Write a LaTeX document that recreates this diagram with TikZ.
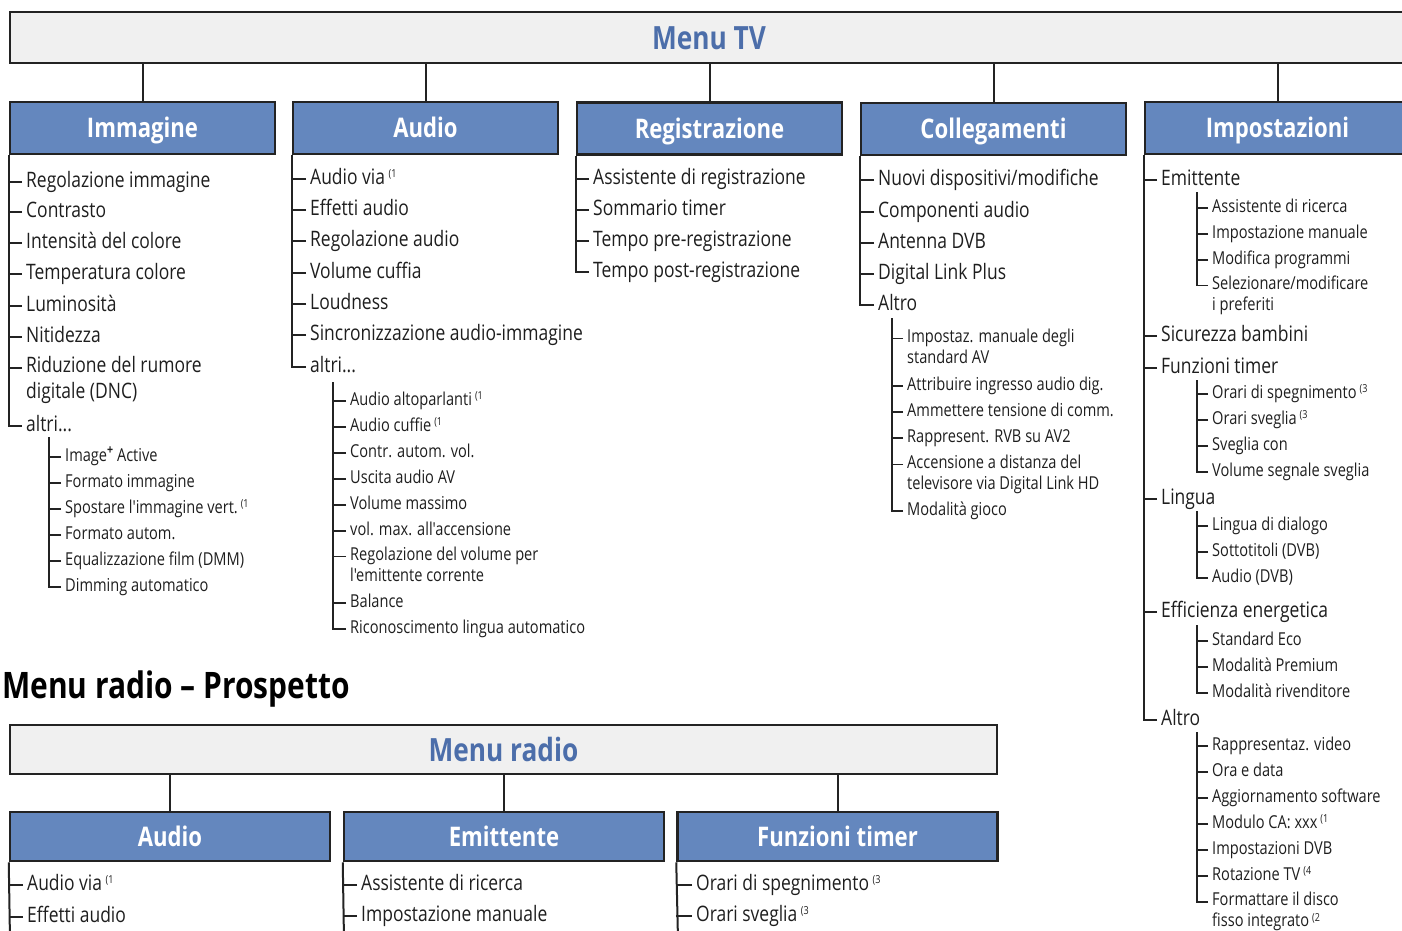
\documentclass[tikz,border=0pt]{standalone}
\usepackage{fontspec}
\setmainfont{Open Sans}[FakeStretch=0.82, Ligatures=TeXOff]
\usetikzlibrary{positioning}

\definecolor{headblue}{RGB}{100,135,190}
\definecolor{titleblue}{RGB}{76,110,170}
\definecolor{boxgray}{RGB}{240,240,240}
\definecolor{linegray}{RGB}{35,35,35}
\definecolor{textgray}{RGB}{30,30,30}

\newcommand{\itemfont}{\fontsize{21.3}{26}\selectfont}
\newcommand{\subfont}{\fontsize{17.8}{21}\selectfont}
\newcommand{\fn}[1]{\,\raisebox{0.3em}{\fontsize{11}{11}\selectfont(#1}}
\newcommand{\plus}{\raisebox{0.35em}{\fontsize{13}{13}\selectfont\bfseries+}}
\newcommand{\altri}{altri...}

\tikzset{
    menubox/.style={draw=linegray, line width=2.5pt, fill=boxgray, text=titleblue,
        font=\fontsize{32}{36}\selectfont\bfseries, inner sep=0pt, text height=31pt, text depth=8pt},
    head/.style={draw=linegray, line width=2.5pt, fill=headblue, text=white,
        font=\fontsize{27}{30}\selectfont\bfseries, minimum width=265, minimum height=52, inner sep=0pt,
        text height=26.2pt, text depth=6.8pt},
    item/.style={anchor=west, align=left, inner xsep=4pt, inner ysep=0pt, text=textgray, yshift=-3pt,
        font=\itemfont, execute at begin node=\strut, execute at end node=\strut},
    subitem/.style={item, font=\subfont},
    stem/.style={draw=linegray, line width=2pt},
    twig/.style={draw=linegray, line width=1.8pt},
    subtwig/.style={draw=linegray, line width=1.1pt},
}

\begin{document}
\begin{tikzpicture}[x=1pt, y=-1pt]
\useasboundingbox (0,0) rectangle (1402,930);
\clip (0,0) rectangle (1402,930);

% Menu TV
\node[menubox, minimum width=1398, minimum height=51] (tv) at (709,37.5) {Menu TV};
\node[head] (img) at (142.5,128) {Immagine};
\node[head] (aud) at (425.5,128) {Audio};
\node[head] (reg) at (709.5,128.5) {Registrazione};
\node[head] (col) at (993.5,129) {Collegamenti};
\node[head] (imp) at (1277.5,128) {Impostazioni};
\foreach \h in {img,aud,reg,col,imp}
    \draw[stem] (tv.south -| \h.north) -- (\h.north);

% Immagine
\foreach \i/\y/\s/\t in {1/179/0/Regolazione immagine, 2/209/0/Contrasto, 3/240/0/Intensità del colore,
    4/271/0/Temperatura colore, 5/303/0/Luminosità, 6/334/0/Nitidezza,
    7/378/13/{Riduzione del rumore\\digitale (DNC)}, 8/423/0/\altri}{
    \node[item] (img\i) at (22,\y) {\t};
    \draw[twig] ([yshift=\s]img\i.west) -- ([yshift=\s]img\i.west -| img.south west);
}
\draw[stem] (img.south west) |- (img8);
\coordinate (imgsub) at (49,437);
\foreach \i/\y/\t in {1/454/{Image\plus\ Active}, 2/480/Formato immagine,
    3/506/{Spostare l'immagine vert.\fn{1}}, 4/532/Formato autom.,
    5/558/Equalizzazione film (DMM), 6/584/Dimming automatico}{
    \node[subitem] (imgs\i) at (61,\y) {\t};
    \draw[subtwig] (imgs\i.west) -- (imgs\i.west -| imgsub);
}
\draw[subtwig] (imgsub) |- (imgs6);

% Audio
\foreach \i/\y/\t in {1/176/{Audio via\fn{1}}, 2/207/Effetti audio, 3/238/Regolazione audio,
    4/270/Volume cuffia, 5/301/Loudness, 6/332/Sincronizzazione audio-immagine, 7/364/\altri}{
    \node[item] (aud\i) at (306,\y) {\t};
    \draw[twig] (aud\i.west) -- (aud\i.west -| aud.south west);
}
\draw[stem] (aud.south west) |- (aud7);
\coordinate (audsub) at (333,382);
\foreach \i/\y/\s/\t in {1/398/0/{Audio altoparlanti\fn{1}}, 2/424/0/{Audio cuffie\fn{1}},
    3/450/0/Contr. autom. vol., 4/476/0/Uscita audio AV, 5/502/0/Volume massimo,
    6/528/0/vol. max. all'accensione, 7/564/10.5/{Regolazione del volume per\\l'emittente corrente},
    8/600/0/Balance, 9/626/0/Riconoscimento lingua automatico}{
    \node[subitem] (auds\i) at (346,\y) {\t};
    \draw[subtwig] ([yshift=\s]auds\i.west) -- ([yshift=\s]auds\i.west -| audsub);
}
\draw[subtwig] (audsub) |- (auds9);

% Registrazione
\foreach \i/\y/\t in {1/176/Assistente di registrazione, 2/207/Sommario timer,
    3/238/Tempo pre-registrazione, 4/269/Tempo post-registrazione}{
    \node[item] (reg\i) at (589,\y) {\t};
    \draw[twig] (reg\i.west) -- (reg\i.west -| reg.south west);
}
\draw[stem] (reg.south west) |- (reg4);

% Collegamenti
\foreach \i/\y/\t in {1/177/{Nuovi dispositivi/modifiche}, 2/209/Componenti audio,
    3/240/Antenna DVB, 4/271/Digital Link Plus, 5/302/Altro}{
    \node[item] (col\i) at (874,\y) {\t};
    \draw[twig] (col\i.west) -- (col\i.west -| col.south west);
}
\draw[stem] (col.south west) |- (col5);
\coordinate (colsub) at (892,318);
\foreach \i/\y/\s/\t in {1/346/10.5/{Impostaz. manuale degli\\standard AV},
    2/383/0/Attribuire ingresso audio dig., 3/409/0/Ammettere tensione di comm.,
    4/435/0/Rappresent. RVB su AV2,
    5/472/10.5/{Accensione a distanza del\\televisore via Digital Link HD}, 6/508/0/Modalità gioco}{
    \node[subitem] (cols\i) at (903,\y) {\t};
    \draw[subtwig] ([yshift=\s]cols\i.west) -- ([yshift=\s]cols\i.west -| colsub);
}
\draw[subtwig] (colsub) |- (cols6);

% Impostazioni
\foreach \i/\y/\t in {1/177/Emittente, 2/333/Sicurezza bambini, 3/365/Funzioni timer,
    4/496/Lingua, 5/609/Efficienza energetica, 6/717/Altro}{
    \node[item] (imp\i) at (1157,\y) {\t};
    \draw[twig] (imp\i.west) -- (imp\i.west -| imp.south west);
}
\draw[stem] (imp.south west) |- (imp6);
\coordinate (impsubA) at (1197,192);
\foreach \i/\y/\s/\t in {1/205/0/Assistente di ricerca, 2/231/0/Impostazione manuale,
    3/257/0/Modifica programmi, 4/293/10.5/{Selezionare/modificare\\i preferiti}}{
    \node[subitem] (impa\i) at (1208,\y) {\t};
    \draw[subtwig] ([yshift=\s]impa\i.west) -- ([yshift=\s]impa\i.west -| impsubA);
}
\draw[subtwig] (impsubA) |- ([yshift=10.5]impa4.west);
\coordinate (impsubB) at (1197,380);
\foreach \i/\y/\t in {1/391/{Orari di spegnimento\fn{3}}, 2/417/{Orari sveglia\fn{3}},
    3/443/Sveglia con, 4/469/Volume segnale sveglia}{
    \node[subitem] (impb\i) at (1208,\y) {\t};
    \draw[subtwig] (impb\i.west) -- (impb\i.west -| impsubB);
}
\draw[subtwig] (impsubB) |- (impb4);
\coordinate (impsubC) at (1197,511);
\foreach \i/\y/\t in {1/523/Lingua di dialogo, 2/549/Sottotitoli (DVB), 3/575/Audio (DVB)}{
    \node[subitem] (impc\i) at (1208,\y) {\t};
    \draw[subtwig] (impc\i.west) -- (impc\i.west -| impsubC);
}
\draw[subtwig] (impsubC) |- (impc3);
\coordinate (impsubD) at (1197,625);
\foreach \i/\y/\t in {1/638/Standard Eco, 2/664/Modalità Premium, 3/690/Modalità rivenditore}{
    \node[subitem] (impd\i) at (1208,\y) {\t};
    \draw[subtwig] (impd\i.west) -- (impd\i.west -| impsubD);
}
\draw[subtwig] (impsubD) |- (impd3);
\coordinate (impsubE) at (1197,732);
\foreach \i/\y/\s/\t in {1/743/0/Rappresentaz. video, 2/769/0/Ora e data,
    3/795/0/Aggiornamento software, 4/821/0/{Modulo CA: xxx\fn{1}}, 5/847/0/Impostazioni DVB,
    6/873/0/{Rotazione TV\fn{4}}, 7/909.5/10.5/{Formattare il disco\\fisso integrato\fn{2}}}{
    \node[subitem] (impe\i) at (1208,\y) {\t};
    \draw[subtwig] ([yshift=\s]impe\i.west) -- ([yshift=\s]impe\i.west -| impsubE);
}
\draw[subtwig] (impsubE) |- ([yshift=10.5]impe7.west);

% Menu radio
\node[anchor=west, inner sep=0pt, font=\fontsize{36.5}{40}\selectfont\bfseries] (rtitle) at (2,689)
    {Menu radio – Prospetto};
\node[menubox, minimum width=987, minimum height=49] (radio) at (503.5,749.5) {Menu radio};
\node[head, minimum width=320, minimum height=49] (raud) at (170,836.5) {Audio};
\node[head, minimum width=320, minimum height=49] (remi) at (504,836.5) {Emittente};
\node[head, minimum width=320, minimum height=49] (rtim) at (837.5,836.5) {Funzioni timer};
\foreach \h in {raud,remi,rtim}
    \draw[stem] (radio.south -| \h.north) -- (\h.north);

\coordinate (raudbot) at (10,940);
\coordinate (remibot) at (344,940);
\coordinate (rtimbot) at (678,940);
\foreach \i/\y/\t in {1/882/{Audio via\fn{1}}, 2/914/Effetti audio}{
    \node[item] (raud\i) at (23,\y) {\t};
    \draw[twig] (raud\i.west) -- (raud\i.west -| raud.south west);
}
\foreach \i/\y/\t in {1/882/Assistente di ricerca, 2/913/Impostazione manuale}{
    \node[item] (remi\i) at (357,\y) {\t};
    \draw[twig] (remi\i.west) -- (remi\i.west -| remi.south west);
}
\foreach \i/\y/\t in {1/882/{Orari di spegnimento\fn{3}}, 2/913/{Orari sveglia\fn{3}}}{
    \node[item] (rtim\i) at (692,\y) {\t};
    \draw[twig] (rtim\i.west) -- (rtim\i.west -| rtim.south west);
}
\draw[stem] (raud.south west) -- (raudbot);
\draw[stem] (remi.south west) -- (remibot);
\draw[stem] (rtim.south west) -- (rtimbot);
\end{tikzpicture}
\end{document}
